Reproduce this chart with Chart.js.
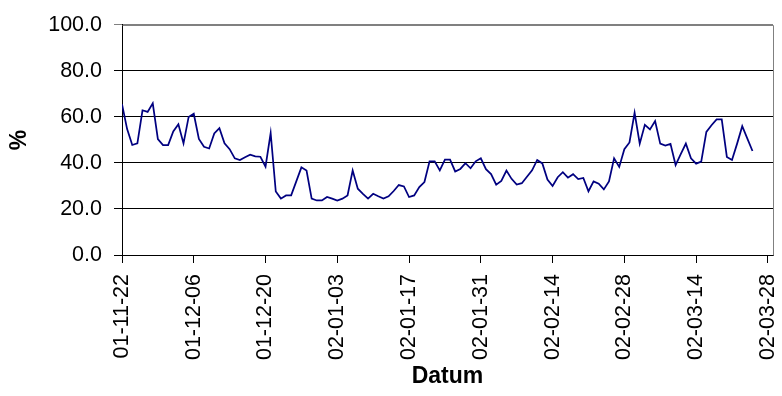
<!DOCTYPE html>
<html>
<head>
<meta charset="utf-8">
<script src="https://cdn.jsdelivr.net/npm/chart.js@4/dist/chart.umd.min.js"></script>
<style>
  html, body { margin: 0; padding: 0; background: #fff; }
  #chart { display: block; }
</style>
</head>
<body>
<canvas id="chart" width="782" height="396"></canvas>
<script>
// x axis: days since 01-11-22, one tick every 14 days
const tickLabels = ['01-11-22', '01-12-06', '01-12-20', '02-01-03', '02-01-17',
                    '02-01-31', '02-02-14', '02-02-28', '02-03-14', '02-03-28'];
const tickDays = [0, 14, 28, 42, 56, 70, 84, 98, 112, 126];
const axisEndDay = 127;

// daily values in % (day 0 = 01-11-22)
const percentValues = [
    65.5, 54.7, 47.8, 48.5, 62.9, 62.2, 65.9, 50.4, 47.8, 47.8,
    53.7, 56.8, 48.5, 60.0, 61.4, 50.4, 47.0, 46.3, 52.8, 55.1,
    48.5, 46.0, 42.0, 41.3, 42.5, 43.6, 42.9, 42.7, 38.4, 53.0,
    27.6, 24.5, 25.9, 25.9, 32.0, 38.1, 36.7, 24.5, 23.7, 23.7,
    25.2, 24.5, 23.7, 24.5, 25.9, 36.7, 28.8, 26.6, 24.5, 26.6,
    25.5, 24.5, 25.5, 27.8, 30.4, 29.8, 25.2, 25.9, 29.5, 31.7,
    40.7, 40.7, 36.8, 41.4, 41.4, 36.3, 37.4, 39.9, 37.7, 40.7,
    42.0, 37.3, 35.2, 30.6, 32.2, 36.7, 33.1, 30.6, 31.2, 34.0,
    36.8, 41.3, 39.8, 32.8, 30.0, 33.8, 36.0, 33.6, 35.1, 33.0,
    33.5, 27.7, 32.0, 31.0, 28.5, 32.0, 42.0, 38.3, 46.0, 48.9,
    61.8, 48.4, 56.6, 54.6, 58.2, 48.4, 47.6, 48.3, 39.1, 43.8,
    48.4, 42.0, 39.7, 40.6, 53.5, 56.4, 58.9, 58.9, 42.6, 41.3,
    48.4, 56.0, 50.6, 45.2
];

const FONT = "'Liberation Sans', Arial, sans-serif";

// grey frame on top/right of the plot area (excel style)
const plotFrame = {
    id: 'plotFrame',
    beforeDatasetsDraw(chart) {
        const { ctx, chartArea: a } = chart;
        ctx.save();
        ctx.strokeStyle = '#808080';
        ctx.lineWidth = 1;
        ctx.beginPath();
        ctx.moveTo(Math.round(a.left) + 0.5, Math.round(a.top) + 0.5);
        ctx.lineTo(Math.round(a.right) + 0.5, Math.round(a.top) + 0.5);
        ctx.lineTo(Math.round(a.right) + 0.5, Math.round(a.bottom) + 0.5);
        ctx.stroke();
        ctx.restore();
    }
};

new Chart(document.getElementById('chart'), {
    type: 'line',
    data: {
        datasets: [{
            data: percentValues.map((v, i) => ({ x: i, y: v })),
            borderColor: '#000080',
            borderWidth: 1.75,
            pointRadius: 0,
            tension: 0,
            fill: false
        }]
    },
    options: {
        responsive: false,
        animation: false,
        devicePixelRatio: 1,
        layout: { padding: { top: 24, right: 9, left: 0, bottom: 0 } },
        plugins: {
            legend: { display: false },
            tooltip: { enabled: false }
        },
        scales: {
            x: {
                type: 'linear',
                min: 0,
                max: axisEndDay,
                afterBuildTicks: (scale) => {
                    scale.ticks = tickDays.map(d => ({ value: d }));
                },
                afterFit: (scale) => {
                    scale.height = 141;
                    // rotated labels ask for side padding, the plot must still reach the right edge
                    scale.paddingLeft = 0;
                    scale.paddingRight = 0;
                },
                ticks: {
                    autoSkip: false,
                    minRotation: 90,
                    maxRotation: 90,
                    padding: 11,
                    color: '#000',
                    font: { family: FONT, size: 21.5 },
                    callback: (value, index) => tickLabels[index]
                },
                grid: {
                    drawOnChartArea: false,
                    drawTicks: true,
                    tickLength: 8,
                    color: '#000',
                    tickColor: '#000'
                },
                border: { color: '#000', width: 1 },
                title: {
                    display: true,
                    text: 'Datum',
                    color: '#000',
                    font: { family: FONT, size: 23, weight: 'bold' },
                    padding: { top: 0, bottom: 6 }
                }
            },
            y: {
                min: 0,
                max: 100,
                afterFit: (scale) => { scale.width = 122; },
                ticks: {
                    stepSize: 20,
                    padding: 12,
                    color: '#000',
                    font: { family: FONT, size: 21.5 },
                    callback: (v) => v.toFixed(1)
                },
                grid: {
                    color: (c) => c.tick && c.tick.value === 100 ? '#808080' : '#000',
                    tickColor: (c) => c.tick && c.tick.value === 100 ? '#808080' : '#000',
                    tickLength: 8,
                    lineWidth: 1
                },
                border: { color: '#000', width: 1 },
                title: {
                    display: true,
                    text: '%',
                    color: '#000',
                    font: { family: FONT, size: 23, weight: 'bold' },
                    padding: { top: 6, bottom: 0 }
                }
            }
        }
    },
    plugins: [plotFrame]
});
</script>
</body>
</html>
